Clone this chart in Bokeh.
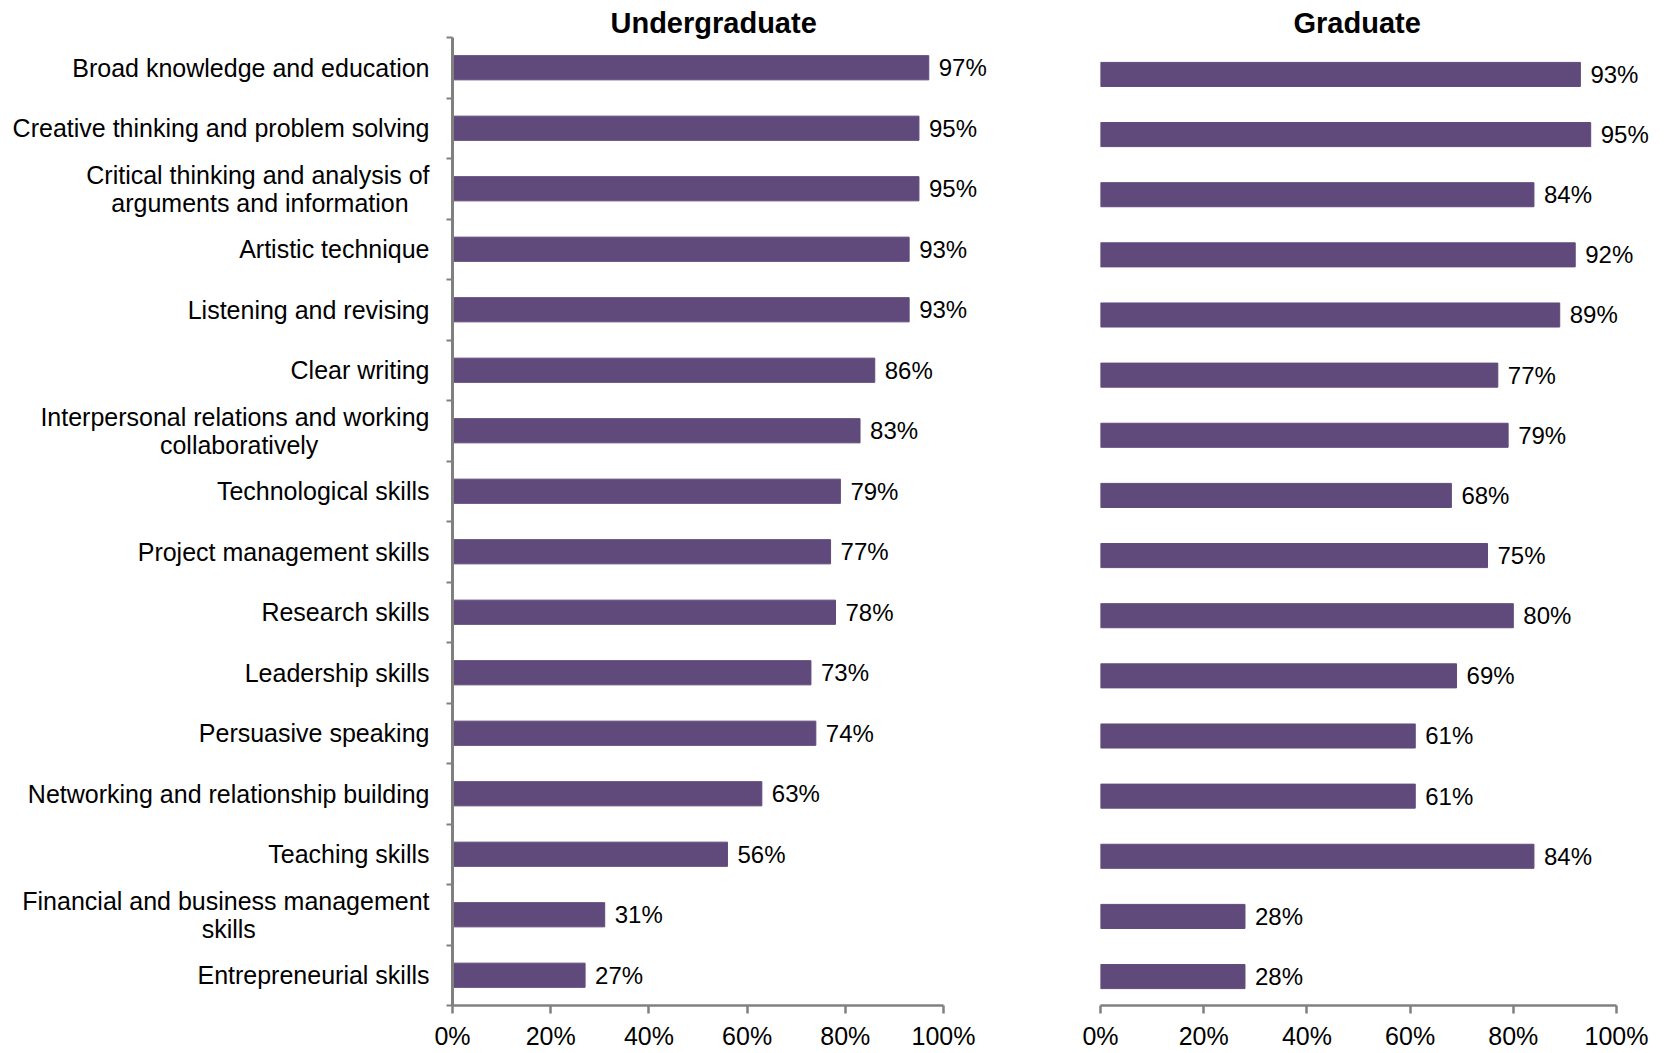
from bokeh.plotting import figure
from bokeh.layouts import row
from bokeh.models import Range1d, FixedTicker, PrintfTickFormatter, ColumnDataSource
from bokeh.core.properties import value
from bokeh.embed import file_html
from bokeh.resources import INLINE

# ---- data ----
skills = [
    "Broad knowledge and education",
    "Creative thinking and problem solving",
    "Critical thinking and analysis of\narguments and information",
    "Artistic technique",
    "Listening and revising",
    "Clear writing",
    "Interpersonal relations and working\ncollaboratively",
    "Technological skills",
    "Project management skills",
    "Research skills",
    "Leadership skills",
    "Persuasive speaking",
    "Networking and relationship building",
    "Teaching skills",
    "Financial and business management\nskills",
    "Entrepreneurial skills",
]
undergrad = [97, 95, 95, 93, 93, 86, 83, 79, 77, 78, 73, 74, 63, 56, 31, 27]
graduate = [93, 95, 84, 92, 89, 77, 79, 68, 75, 80, 69, 61, 61, 84, 28, 28]
x_ticks = [0, 20, 40, 60, 80, 100]
titles = ["Undergraduate", "Graduate"]

BAR = "#604A7B"
AXIS = "#808080"
FONT = "Liberation Sans"

# styling: visually centre the second line of wrapped labels (non-breaking space padding)
LINE_PAD = {2: 3, 6: 16, 14: 25}


def display_label(i, s):
    pad = LINE_PAD.get(i, 0)
    if pad and "\n" in s:
        a, b = s.split("\n", 1)
        return a + "\n" + b + "\u00a0" * pad
    return s


def make_panel(title, vals, width, border_left, x_end, y_bottom, y_top, show_y, title_offset):
    n = len(skills)
    idx = list(range(n))
    src = ColumnDataSource(dict(y=idx, v=vals, lab=[f"{v}%" for v in vals]))
    p = figure(width=width, height=1052, output_backend="svg", toolbar_location=None,
               x_range=Range1d(0, x_end), y_range=Range1d(y_bottom, y_top),
               min_border_left=border_left, min_border_right=0,
               min_border_top=37, min_border_bottom=42)
    p.outline_line_color = None
    p.background_fill_color = "white"
    p.border_fill_color = "white"
    p.xgrid.visible = False
    p.ygrid.visible = False

    p.hbar(y="y", left=0, right="v", height=0.4, source=src,
           fill_color=BAR, line_color=BAR, line_width=1)
    p.text(x="v", y="y", text="lab", source=src, x_offset=10,
           text_baseline="middle", text_align="left",
           text_font=value(FONT), text_font_size="24px", text_color="black")

    p.title.text = title
    p.title.align = "left"
    p.title.offset = title_offset
    p.title.text_font = FONT
    p.title.text_font_size = "29px"
    p.title.text_font_style = "bold"
    p.title.text_color = "black"
    p.title.vertical_align = "bottom"
    p.title.standoff = -2

    xa = p.xaxis[0]
    xa.ticker = FixedTicker(ticks=x_ticks, minor_ticks=[])
    xa.formatter = PrintfTickFormatter(format="%d%%")
    xa.bounds = (0, 100)
    xa.axis_line_color = AXIS
    xa.axis_line_width = 2.5
    xa.major_tick_line_color = AXIS
    xa.major_tick_line_width = 2.5
    xa.major_tick_out = 8
    xa.major_tick_in = 0
    xa.minor_tick_out = 0
    xa.minor_tick_in = 0
    xa.major_label_standoff = 8
    xa.major_label_text_font = FONT
    xa.major_label_text_font_size = "25px"
    xa.major_label_text_color = "black"

    ya = p.yaxis[0]
    if show_y:
        ya.ticker = FixedTicker(ticks=idx, minor_ticks=[i - 0.5 for i in range(n + 1)])
        ya.major_label_overrides = {i: display_label(i, s) for i, s in enumerate(skills)}
        ya.axis_line_color = AXIS
        ya.axis_line_width = 3
        ya.major_tick_out = 0
        ya.major_tick_in = 0
        ya.minor_tick_out = 6
        ya.minor_tick_in = 0
        ya.minor_tick_line_color = AXIS
        ya.minor_tick_line_width = 2
        ya.major_label_standoff = 17
        ya.major_label_text_font = FONT
        ya.major_label_text_font_size = "25px"
        ya.major_label_text_line_height = 1.0
        ya.major_label_text_color = "black"
    else:
        ya.visible = False
    return p


n = len(skills)
p1 = make_panel(titles[0], undergrad, 1000, 452, (1000 - 452) / 491 * 100,
                n - 0.5, -0.5, True, 158)
p2 = make_panel(titles[1], graduate, 656, 100, (656 - 100) / 516 * 100,
                n - 1 + 0.481, -0.614, False, 193)

layout = row(p1, p2)
open("out.html", "w").write(file_html(layout, INLINE))
